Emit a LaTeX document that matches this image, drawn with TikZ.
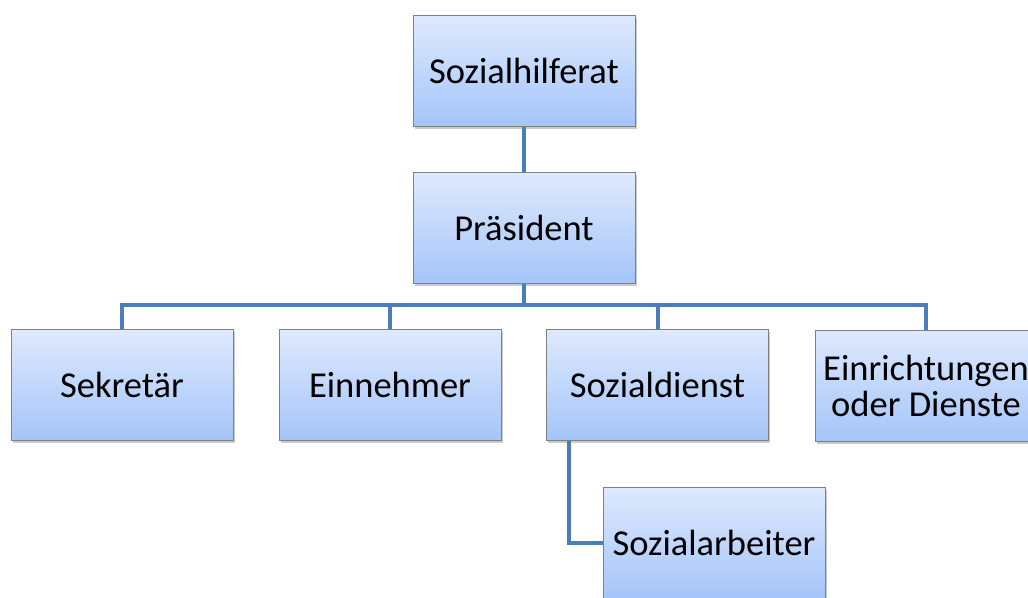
\documentclass[tikz,border=0pt]{standalone}
\usepackage{fontspec}
\setmainfont{Carlito}
\usetikzlibrary{shadows}
\definecolor{boxtop}{RGB}{222,233,253}
\definecolor{boxbot}{RGB}{164,197,249}
\definecolor{boxedge}{RGB}{128,128,128}
\definecolor{linkblue}{RGB}{74,126,187}
\tikzset{
  orgbox/.style={draw=boxedge, line width=0.8pt, top color=boxtop, bottom color=boxbot,
    minimum width=222pt, minimum height=111pt, inner sep=0pt, align=center,
    font=\fontsize{36.5}{36}\selectfont,
    drop shadow={shadow xshift=1.5pt, shadow yshift=-2.5pt, opacity=0.35, fill=black!60}},
  link/.style={draw=linkblue, line width=4pt}
}
\begin{document}
\begin{tikzpicture}[x=1pt,y=-1pt]
\useasboundingbox (0,0) rectangle (1028,597);
\node[orgbox] (rat) at (524,71) {Sozialhilferat};
\node[orgbox] (pres) at (524,228) {Präsident};
\node[orgbox] (sek) at (122,385) {Sekretär};
\node[orgbox] (ein) at (390,385) {Einnehmer};
\node[orgbox] (sd) at (657.5,385) {Sozialdienst};
\node[orgbox] (eid) at (926,385.5) {Einrichtungen\\oder Dienste};
\node[orgbox] (sa) at (714,542.5) {Sozialarbeiter};
\coordinate (bus) at (524,305);
\draw[link] (rat.south) -- (pres.north);
\draw[link] (pres.south) -- (bus);
\draw[link] (bus) -| (sek.north);
\draw[link] (bus) -| (ein.north);
\draw[link] (bus) -| (sd.north);
\draw[link] (bus) -| (eid.north);
\draw[link] ([xshift=23pt]sd.south west) |- (sa.west);
\end{tikzpicture}
\end{document}
